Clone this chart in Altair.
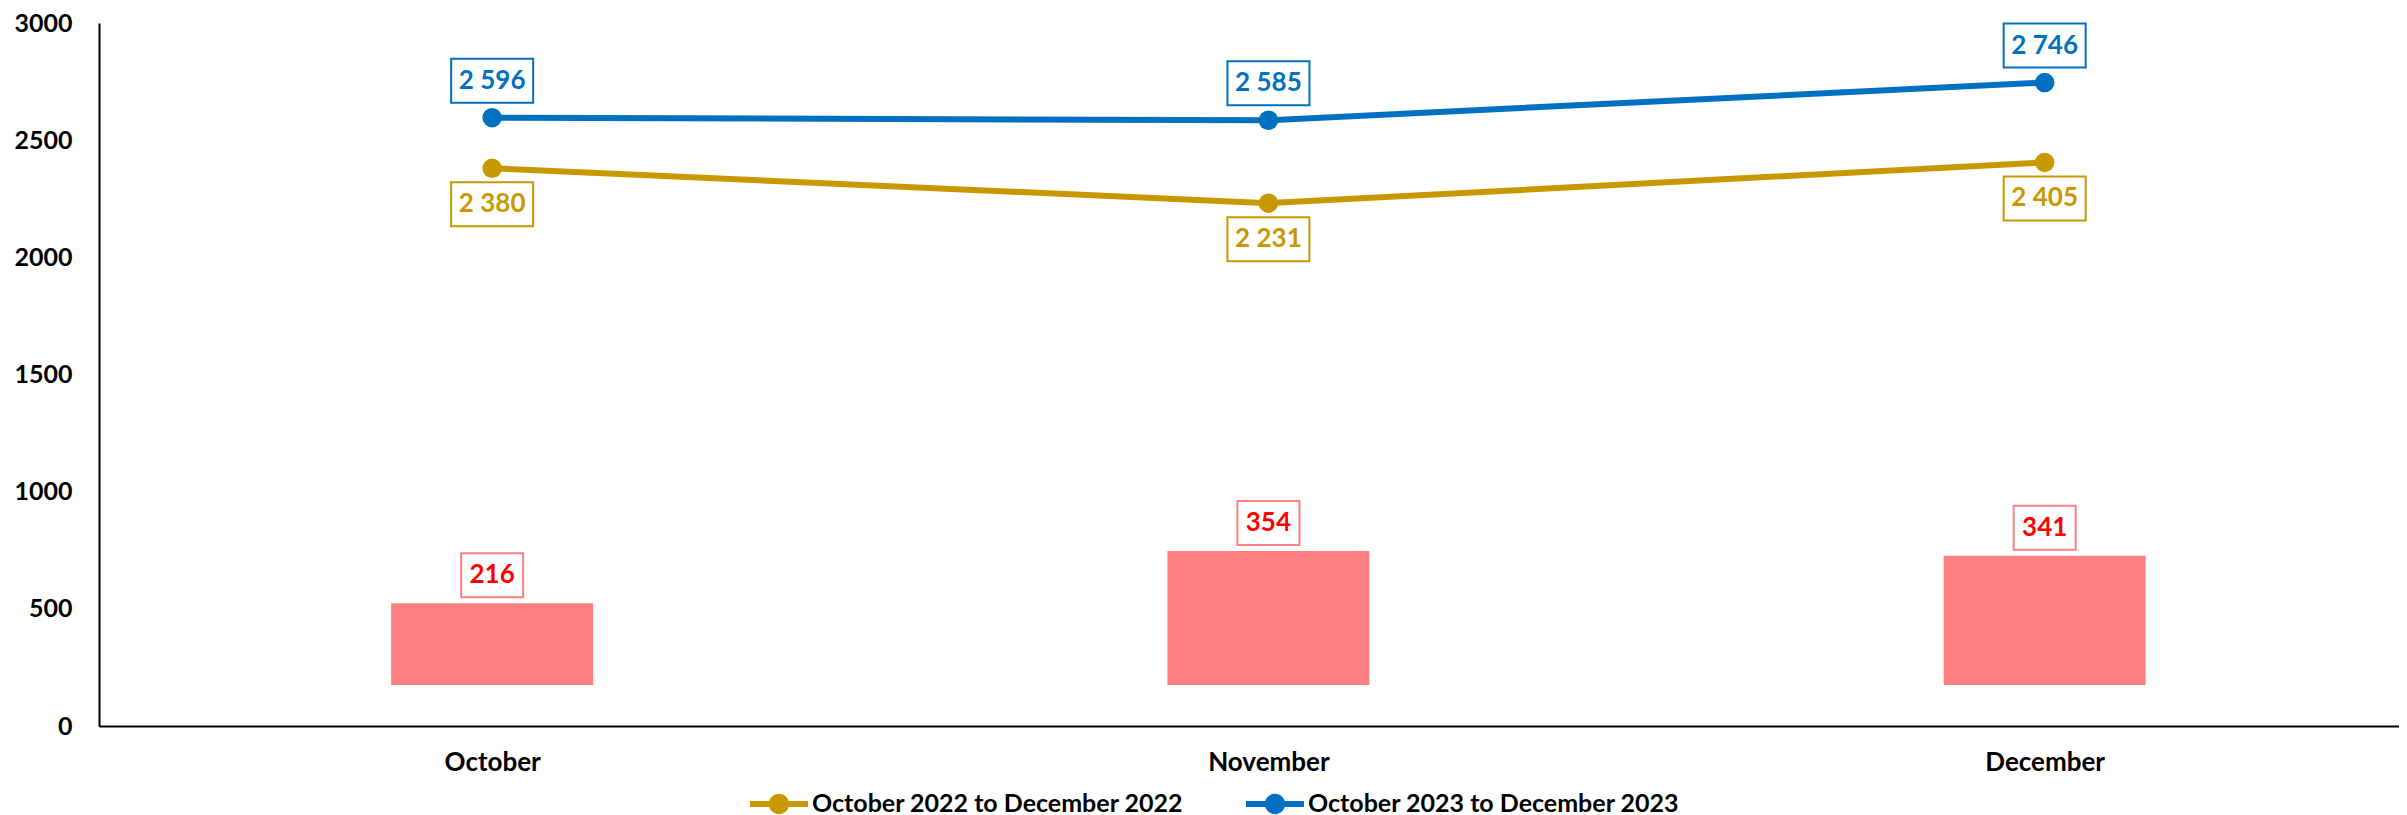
import json
import altair as alt
import pandas as pd

# ---- data ----
months = ["October", "November", "December"]
series_names = ["October 2022 to December 2022", "October 2023 to December 2023"]
values_2022 = [2380, 2231, 2405]
values_2023 = [2596, 2585, 2746]
differences = [216, 354, 341]
y_ticks = [0, 500, 1000, 1500, 2000, 2500, 3000]

series_colors = ["#C89800", "#0070C0"]
bar_color = "#FF8080"
bar_text_color = "#FF0000"
FONT = "Lato"


def fmt(v):
    return f"{v:,}".replace(",", " ")


idx = list(range(len(months)))
line_df = pd.DataFrame({
    "idx": idx * 2,
    "month": months * 2,
    "series": [series_names[0]] * len(months) + [series_names[1]] * len(months),
    "value": values_2022 + values_2023,
})
line_df["label"] = line_df["value"].map(fmt)
bar_df = pd.DataFrame({"idx": idx, "month": months, "diff": differences})
bar_df["label"] = bar_df["diff"].map(fmt)

label_expr = json.dumps(months) + "[datum.value]"
x_enc = alt.X(
    "idx:Q",
    scale=alt.Scale(domain=[-0.5, 2.45], nice=False, zero=False),
    axis=alt.Axis(values=idx, labelExpr=label_expr, title=None, ticks=False, grid=False,
                  domainColor="black", domainWidth=2, labelFontSize=26, labelFont=FONT,
                  labelFontWeight="bold", labelColor="black", labelPadding=23),
)
y_scale = alt.Scale(domain=[0, 3000], nice=False, zero=False)
y_axis = alt.Axis(values=y_ticks, format="d", title=None, ticks=False, grid=False,
                  domainColor="black", domainWidth=2, labelFontSize=25, labelFont=FONT,
                  labelFontWeight="bold", labelColor="black", labelPadding=27)
bar_scale = alt.Scale(domain=[-108, 1747], nice=False, zero=False)

color_scale = alt.Scale(domain=series_names, range=series_colors)

legend_symbol = ("M-1,-0.1L1,-0.1L1,0.1L-1,0.1Z "
                 "M-0.35,0A0.35,0.35 0 1,1 0.35,0A0.35,0.35 0 1,1 -0.35,0Z")

base_line = alt.Chart(line_df)

bars = alt.Chart(bar_df).mark_bar(color=bar_color, size=202).encode(
    x=x_enc,
    y=alt.Y("diff:Q", scale=bar_scale, axis=None),
)
bar_box = alt.Chart(bar_df).mark_point(
    shape="M-1,-0.71L1,-0.71L1,0.71L-1,0.71Z", size=3844, filled=True,
    fill="white", stroke=bar_color, strokeWidth=2, opacity=1, yOffset=-28,
).encode(x=x_enc, y=alt.Y("diff:Q", scale=bar_scale, axis=None))
bar_text = alt.Chart(bar_df).mark_text(
    font=FONT, fontSize=26, fontWeight="bold", color=bar_text_color, yOffset=-28,
    baseline="middle", align="center",
).encode(x=x_enc, y=alt.Y("diff:Q", scale=bar_scale, axis=None), text="label:N")

layers = [bars, bar_box, bar_text]

first = True
for s_name, col in zip(series_names, series_colors):
    sub = base_line.transform_filter(alt.datum.series == s_name)
    layers.append(sub.mark_line(strokeWidth=6, color=col).encode(
        x=x_enc,
        y=alt.Y("value:Q", scale=y_scale, axis=y_axis if first else None),
    ))
    first = False

points = base_line.mark_point(filled=True, size=380, opacity=1).encode(
    x=x_enc,
    y=alt.Y("value:Q", scale=y_scale, axis=None),
    color=alt.Color(
        "series:N", scale=color_scale,
        legend=alt.Legend(orient="none", legendX=651, legendY=752, direction="horizontal",
                          title=None, symbolType=legend_symbol, symbolSize=3364,
                          symbolOpacity=1, symbolStrokeWidth=0, labelFontSize=25,
                          labelFont=FONT, labelFontWeight="bold", labelColor="black",
                          labelLimit=1000, labelOffset=4, columnPadding=62, padding=0),
    ),
)
layers.append(points)

box_path = "M-1,-0.537L1,-0.537L1,0.537L-1,0.537Z"
for s_name, col, off in [(series_names[0], series_colors[0], 36), (series_names[1], series_colors[1], -37)]:
    sub = base_line.transform_filter(alt.datum.series == s_name)
    layers.append(sub.mark_point(shape=box_path, size=6724, filled=True, fill="white",
                                 stroke=col, strokeWidth=2, opacity=1, yOffset=off).encode(
        x=x_enc, y=alt.Y("value:Q", scale=y_scale, axis=None)))
    layers.append(sub.mark_text(font=FONT, fontSize=26, fontWeight="bold", color=col,
                                yOffset=off, baseline="middle", align="center").encode(
        x=x_enc, y=alt.Y("value:Q", scale=y_scale, axis=None), text="label:N"))

chart = alt.layer(*layers).resolve_scale(y="independent").properties(
    width=2300, height=703, background="white",
    padding={"left": 5, "top": 3, "right": 0, "bottom": 0},
).configure(font=FONT).configure_view(strokeWidth=0, stroke="transparent")

chart.save("out.html", embed_options={"renderer": "svg", "actions": False})
